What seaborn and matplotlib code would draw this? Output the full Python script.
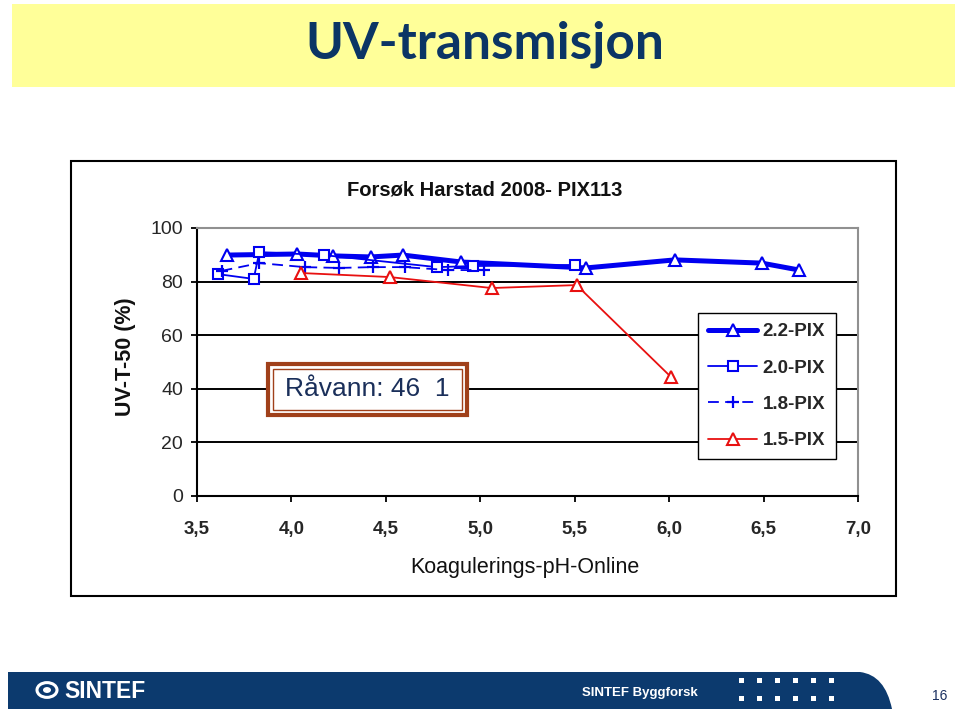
import matplotlib

matplotlib.use("Agg")

import matplotlib.pyplot as plt
import matplotlib.patches as mpatches
from matplotlib.lines import Line2D
from matplotlib.path import Path
import pandas as pd
import seaborn as sns

# values
pix22_x = [3.66, 4.03, 4.22, 4.42, 4.59, 4.90, 5.56, 6.03, 6.49, 6.69]
pix22_y = [89.9, 90.3, 89.6, 89.2, 89.9, 87.3, 85.1, 88.1, 86.9, 84.3]

pix20_x = [3.61, 3.80, 3.83, 4.17, 4.77, 4.96, 5.50]
pix20_y = [82.8, 81.0, 91.0, 89.9, 85.4, 85.8, 86.2]

pix18_x = [3.63, 3.83, 4.07, 4.25, 4.43, 4.60, 4.83, 5.02]
pix18_y = [84.0, 86.9, 85.4, 85.1, 85.4, 85.4, 84.3, 84.3]

pix15_x = [4.05, 4.52, 5.06, 5.51, 6.01]
pix15_y = [83.2, 81.7, 77.6, 78.7, 44.4]

x_ticks = [3.5, 4.0, 4.5, 5.0, 5.5, 6.0, 6.5, 7.0]
x_tick_labels = ["3,5", "4,0", "4,5", "5,0", "5,5", "6,0", "6,5", "7,0"]
y_ticks = [0, 20, 40, 60, 80, 100]

BLUE = "#0000f0"
RED = "#e81010"
NAVY = "#0c3a6e"

sns.set_theme(style="white")
plt.rcParams["font.family"] = ["Liberation Sans", "DejaVu Sans"]

W, H = 960, 709
fig = plt.figure(figsize=(9.6, 7.09), dpi=100)


def fx(px):
    return px / W


def fy(py):
    return 1 - py / H


# yellow title banner
fig.patches.append(mpatches.Rectangle((fx(12), fy(87)), fx(943), 83 / H,
                                      transform=fig.transFigure, facecolor="#ffff99",
                                      edgecolor="none", zorder=0))
fig.text(fx(485), fy(44), "UV-transmisjon", family=["Lato", "DejaVu Sans"],
         fontsize=37, weight="bold", color="#0b3565", ha="center", va="center")

# chart frame
fig.patches.append(mpatches.Rectangle((fx(71), fy(596)), fx(825), 435 / H,
                                      transform=fig.transFigure, facecolor="white",
                                      edgecolor="black", linewidth=1.5, zorder=0))

ax = fig.add_axes([fx(197), fy(496), fx(661), 268 / H])
ax.set_zorder(3)

series = [
    ("2.2-PIX", pix22_x, pix22_y, dict(color=BLUE, linewidth=3.6, marker="^",
                                      markersize=9, markerfacecolor="white",
                                      markeredgecolor=BLUE, markeredgewidth=1.5)),
    ("2.0-PIX", pix20_x, pix20_y, dict(color=BLUE, linewidth=1.3, marker="s",
                                      markersize=7.5, markerfacecolor="white",
                                      markeredgecolor=BLUE, markeredgewidth=1.5)),
    ("1.8-PIX", pix18_x, pix18_y, dict(color=BLUE, linewidth=1.3, marker="+",
                                      markersize=8, markeredgewidth=1.6,
                                      markeredgecolor=BLUE, dashes=(6, 3.5))),
    ("1.5-PIX", pix15_x, pix15_y, dict(color=RED, linewidth=1.3, marker="^",
                                      markersize=9, markerfacecolor="white",
                                      markeredgecolor=RED, markeredgewidth=1.5)),
]

handles = []
for i, (name, xs, ys, style) in enumerate(series):
    df = pd.DataFrame({"x": xs, "y": ys})
    sns.lineplot(data=df, x="x", y="y", sort=False, estimator=None, ax=ax,
                 zorder=3 + i, **style)
    handles.append(Line2D([], [], label=name, **style))

ax.set_xlim(3.5, 7.0)
ax.set_ylim(0, 100)
ax.set_xticks(x_ticks)
ax.set_xticklabels(x_tick_labels, fontsize=13.5, weight="bold")
ax.set_yticks(y_ticks)
ax.set_yticklabels([str(v) for v in y_ticks], fontsize=14)
ax.tick_params(axis="both", direction="out", length=4, width=1.3, color="black",
               bottom=True, left=True)
ax.tick_params(axis="x", pad=14)
ax.tick_params(axis="y", pad=6)
ax.set_xlabel("")
ax.set_ylabel("")

for v in [20, 40, 60, 80]:
    ax.axhline(v, color="black", linewidth=1.4, zorder=1)

for side in ["left", "bottom"]:
    ax.spines[side].set_color("black")
    ax.spines[side].set_linewidth(1.5)
for side in ["top", "right"]:
    ax.spines[side].set_color("#909090")
    ax.spines[side].set_linewidth(1.5)

leg = ax.legend(handles=handles, loc="upper left", bbox_to_anchor=(0.758, 0.683),
                borderaxespad=0, frameon=True, fancybox=False, framealpha=1,
                edgecolor="black", prop={"weight": "bold", "size": 13.5},
                handlelength=2.6, handletextpad=0.3, labelspacing=1.02,
                borderpad=0.55)
leg.get_frame().set_linewidth(1.0)
leg.set_zorder(10)

# Råvann box with double brown border
fig.patches.append(mpatches.Rectangle((fx(268), fy(415)), fx(199), 51 / H,
                                      transform=fig.transFigure, facecolor="white",
                                      edgecolor="#a0401a", linewidth=3, zorder=5))
fig.patches.append(mpatches.Rectangle((fx(273), fy(410)), fx(189), 41 / H,
                                      transform=fig.transFigure, facecolor="none",
                                      edgecolor="#a0401a", linewidth=1, zorder=5))
fig.text(fx(367), fy(389), "Råvann: 46  1", fontsize=19, color="#1a2f5a",
         ha="center", va="center", zorder=6)

fig.text(fx(485), fy(190), "Forsøk Harstad 2008- PIX113", fontsize=14.5,
         weight="bold", ha="center", va="center", color="#111111")
fig.text(fx(525), fy(567), "Koagulerings-pH-Online", fontsize=15.5,
         ha="center", va="center", color="#111111")
fig.text(fx(125), fy(357), "UV-T-50 (%)", fontsize=15.5, weight="bold",
         rotation=90, ha="center", va="center", color="#111111")

# footer band
verts = [(fx(8), fy(709)), (fx(8), fy(672)), (fx(860), fy(672)),
         (fx(885), fy(675)), (fx(892), fy(709)), (fx(8), fy(709))]
codes = [Path.MOVETO, Path.LINETO, Path.LINETO, Path.CURVE3, Path.CURVE3,
         Path.CLOSEPOLY]
fig.patches.append(mpatches.PathPatch(Path(verts, codes), transform=fig.transFigure,
                                      facecolor=NAVY, edgecolor="none", zorder=1))
fig.patches.append(mpatches.Circle((fx(47), fy(690)), 10 / W, transform=fig.transFigure,
                                   facecolor="none", edgecolor="white", linewidth=2.2,
                                   zorder=2))
fig.patches.append(mpatches.Circle((fx(47), fy(690)), 4 / W, transform=fig.transFigure,
                                   facecolor="white", edgecolor="none", zorder=2))
fig.text(fx(64), fy(691), "SINTEF", fontsize=16.5, weight="bold", color="white",
         ha="left", va="center")
fig.text(fx(640), fy(693), "SINTEF Byggforsk", fontsize=9.5, weight="bold",
         color="white", ha="center", va="center")
for row_y in [681, 699]:
    for col_x in [741, 759, 777, 795, 813, 831]:
        fig.patches.append(mpatches.Rectangle((fx(col_x - 2), fy(row_y + 2)), fx(5), 5 / H,
                                              transform=fig.transFigure,
                                              facecolor="white", edgecolor="none",
                                              zorder=2))
fig.text(fx(940), fy(696), "16", fontsize=10, color="#1a3060", ha="center",
         va="center")

fig.savefig("out.png", dpi=100)
